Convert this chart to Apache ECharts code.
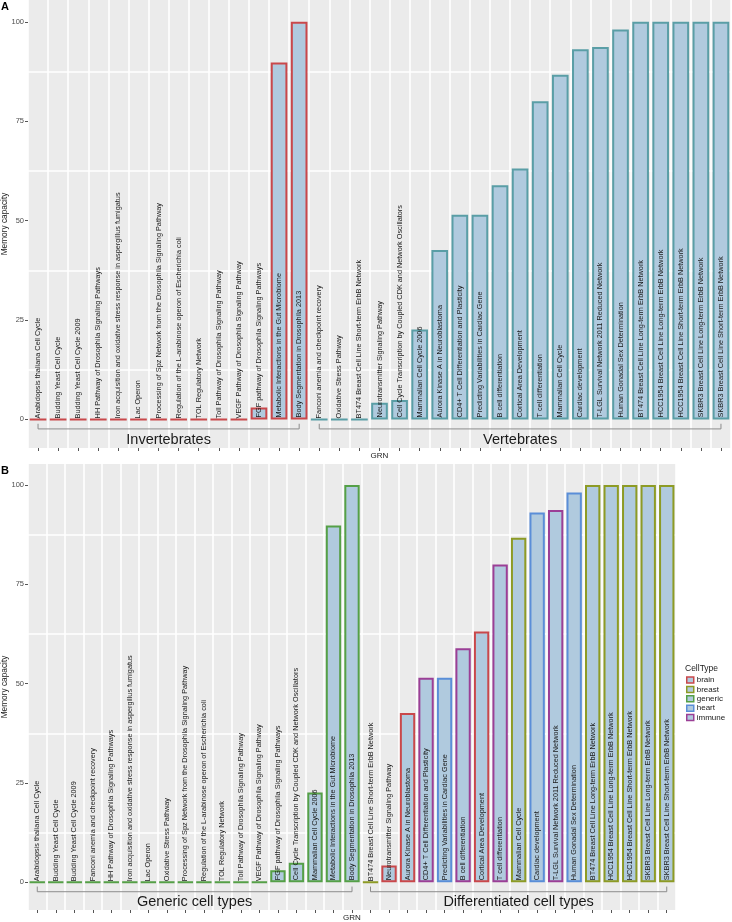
<!DOCTYPE html>
<html>
<head>
<meta charset="utf-8">
<script src="https://cdn.jsdelivr.net/npm/echarts@6/dist/echarts.min.js"></script>
<style>
  html, body { margin: 0; padding: 0; background: #fff; }
  #chart { width: 732px; height: 922px; }
</style>
</head>
<body>
<div id="chart"></div>
<script>
// GRN names in panel A order
var grnA = [
  'Arabidopsis thaliana Cell Cycle',
  'Budding Yeast Cell Cycle',
  'Budding Yeast Cell Cycle 2009',
  'HH Pathway of Drosophila Signaling Pathways',
  'Iron acquisition and oxidative stress response in aspergillus fumigatus',
  'Lac Operon',
  'Processing of Spz Network from the Drosophila Signaling Pathway',
  'Regulation of the L-arabinose operon of Escherichia coli',
  'TOL Regulatory Network',
  'Toll Pathway of Drosophila Signaling Pathway',
  'VEGF Pathway of Drosophila Signaling Pathway',
  'FGF pathway of Drosophila Signaling Pathways',
  'Metabolic Interactions in the Gut Microbiome',
  'Body Segmentation in Drosophila 2013',
  'Fanconi anemia and checkpoint recovery',
  'Oxidative Stress Pathway',
  'BT474 Breast Cell Line Short-term ErbB Network',
  'Neurotransmitter Signaling Pathway',
  'Cell Cycle Transcription by Coupled CDK and Network Oscillators',
  'Mammalian Cell Cycle 2006',
  'Aurora Kinase A in Neuroblastoma',
  'CD4+ T Cell Differentiation and Plasticity',
  'Predicting Variabilities in Cardiac Gene',
  'B cell differentiation',
  'Cortical Area Development',
  'T cell differentiation',
  'Mammalian Cell Cycle',
  'Cardiac development',
  'T-LGL Survival Network 2011 Reduced Network',
  'Human Gonadal Sex Determination',
  'BT474 Breast Cell Line Long-term ErbB Network',
  'HCC1954 Breast Cell Line Long-term ErbB Network',
  'HCC1954 Breast Cell Line Short-term ErbB Network',
  'SKBR3 Breast Cell Line Long-term ErbB Network',
  'SKBR3 Breast Cell Line Short-term ErbB Network'
];
var capacityA = [0, 0, 0, 0, 0, 0, 0, 0, 0, 0, 0, 3, 89.8, 100,
  0, 0, 0, 4.2, 4.9, 22.6, 42.6, 51.5, 51.5, 58.9, 63.1, 80, 86.7, 93.1, 93.7, 98.1,
  100, 100, 100, 100, 100];
var groupA = [
  'Invertebrates', 'Invertebrates', 'Invertebrates', 'Invertebrates', 'Invertebrates',
  'Invertebrates', 'Invertebrates', 'Invertebrates', 'Invertebrates', 'Invertebrates',
  'Invertebrates', 'Invertebrates', 'Invertebrates', 'Invertebrates',
  'Vertebrates', 'Vertebrates', 'Vertebrates', 'Vertebrates', 'Vertebrates', 'Vertebrates',
  'Vertebrates', 'Vertebrates', 'Vertebrates', 'Vertebrates', 'Vertebrates', 'Vertebrates',
  'Vertebrates', 'Vertebrates', 'Vertebrates', 'Vertebrates', 'Vertebrates', 'Vertebrates',
  'Vertebrates', 'Vertebrates', 'Vertebrates'
];

// panel B order
var grnB = [
  'Arabidopsis thaliana Cell Cycle',
  'Budding Yeast Cell Cycle',
  'Budding Yeast Cell Cycle 2009',
  'Fanconi anemia and checkpoint recovery',
  'HH Pathway of Drosophila Signaling Pathways',
  'Iron acquisition and oxidative stress response in aspergillus fumigatus',
  'Lac Operon',
  'Oxidative Stress Pathway',
  'Processing of Spz Network from the Drosophila Signaling Pathway',
  'Regulation of the L-arabinose operon of Escherichia coli',
  'TOL Regulatory Network',
  'Toll Pathway of Drosophila Signaling Pathway',
  'VEGF Pathway of Drosophila Signaling Pathway',
  'FGF pathway of Drosophila Signaling Pathways',
  'Cell Cycle Transcription by Coupled CDK and Network Oscillators',
  'Mammalian Cell Cycle 2006',
  'Metabolic Interactions in the Gut Microbiome',
  'Body Segmentation in Drosophila 2013',
  'BT474 Breast Cell Line Short-term ErbB Network',
  'Neurotransmitter Signaling Pathway',
  'Aurora Kinase A in Neuroblastoma',
  'CD4+ T Cell Differentiation and Plasticity',
  'Predicting Variabilities in Cardiac Gene',
  'B cell differentiation',
  'Cortical Area Development',
  'T cell differentiation',
  'Mammalian Cell Cycle',
  'Cardiac development',
  'T-LGL Survival Network 2011 Reduced Network',
  'Human Gonadal Sex Determination',
  'BT474 Breast Cell Line Long-term ErbB Network',
  'HCC1954 Breast Cell Line Long-term ErbB Network',
  'HCC1954 Breast Cell Line Short-term ErbB Network',
  'SKBR3 Breast Cell Line Long-term ErbB Network',
  'SKBR3 Breast Cell Line Short-term ErbB Network'
];
var cellTypeB = [
  'generic', 'generic', 'generic', 'generic', 'generic', 'generic', 'generic', 'generic', 'generic',
  'generic', 'generic', 'generic', 'generic', 'generic', 'generic', 'generic', 'generic', 'generic',
  'breast', 'brain', 'brain', 'immune', 'heart', 'immune', 'brain', 'immune', 'breast',
  'heart', 'immune', 'heart', 'breast', 'breast', 'breast', 'breast', 'breast'
];
var groupB = [
  'Generic cell types', 'Generic cell types', 'Generic cell types', 'Generic cell types',
  'Generic cell types', 'Generic cell types', 'Generic cell types', 'Generic cell types',
  'Generic cell types', 'Generic cell types', 'Generic cell types', 'Generic cell types',
  'Generic cell types', 'Generic cell types', 'Generic cell types', 'Generic cell types',
  'Generic cell types', 'Generic cell types',
  'Differentiated cell types', 'Differentiated cell types', 'Differentiated cell types',
  'Differentiated cell types', 'Differentiated cell types', 'Differentiated cell types',
  'Differentiated cell types', 'Differentiated cell types', 'Differentiated cell types',
  'Differentiated cell types', 'Differentiated cell types', 'Differentiated cell types',
  'Differentiated cell types', 'Differentiated cell types', 'Differentiated cell types',
  'Differentiated cell types', 'Differentiated cell types'
];
var cellTypes = ['brain', 'breast', 'generic', 'heart', 'immune'];
var yTicks = [0, 25, 50, 75, 100];
var yGridLines = [12.5, 37.5, 62.5, 87.5];

var FONT = 'Liberation Sans, Arial, sans-serif';
var FILL = '#b0cade';
var typeColors = { brain: '#c9484b', breast: '#8d9b25', generic: '#55a047', heart: '#5a8ed8', immune: '#9b3f96' };
var kingdomColors = { Invertebrates: '#c9484b', Vertebrates: '#5a9ea6' };

var capacityB = grnB.map(function(n) { return capacityA[grnA.indexOf(n)]; });

function brackets(groups) {
    var out = [];
    groups.forEach(function(g, i) {
        var last = out[out.length - 1];
        if (!last || last.name !== g) out.push({ name: g, value: [i, i] });
        else last.value[1] = i;
    });
    return out;
}

var barLabel = {
    show: true,
    formatter: '{b}',
    position: 'insideBottom',
    rotate: 90,
    align: 'left',
    verticalAlign: 'middle',
    distance: 2,
    fontSize: 7.3,
    fontFamily: FONT,
    color: '#1a1a1a'
};

var gridMarks = {
    silent: true,
    symbol: 'none',
    z: 1,
    label: { show: false },
    lineStyle: { color: '#ffffff', width: 1.6, type: 'solid' },
    data: yGridLines.map(function(v) { return { yAxis: v }; })
};

function bracketSeries(idx, groups) {
    var data = brackets(groups);
    return {
        type: 'custom',
        xAxisIndex: idx,
        yAxisIndex: idx,
        z: 3,
        silent: true,
        encode: { x: [0, 1] },
        data: data,
        renderItem: function(params, api) {
            var s = api.value(0), e = api.value(1);
            var a = api.coord([s, -1.1]);
            var b = api.coord([s, -2.4]);
            var c = api.coord([e, -2.4]);
            var d = api.coord([e, -1.1]);
            var t = api.coord([s, -5.1]);
            return {
                type: 'group',
                children: [{
                    type: 'polyline',
                    shape: { points: [a, b, c, d] },
                    style: { stroke: '#8c8c8c', lineWidth: 1, fill: null }
                }, {
                    type: 'text',
                    x: (a[0] + d[0]) / 2,
                    y: t[1],
                    style: {
                        text: data[params.dataIndex].name,
                        fontSize: 14.5,
                        fontFamily: FONT,
                        fill: '#1a1a1a',
                        align: 'center',
                        verticalAlign: 'middle'
                    }
                }]
            };
        }
    };
}

function xAxisFor(idx, cats) {
    return {
        type: 'category',
        gridIndex: idx,
        data: cats,
        name: 'GRN',
        nameLocation: 'middle',
        nameGap: 4,
        nameTextStyle: { fontSize: 8, fontFamily: FONT, color: '#1a1a1a', verticalAlign: 'top' },
        axisLine: { show: false, onZero: false },
        axisLabel: { show: false, interval: 0 },
        axisTick: { show: true, interval: 0, alignWithLabel: true, length: 3, lineStyle: { color: '#555' } },
        splitLine: { show: true, interval: 0, lineStyle: { color: '#ffffff', width: 1.6 } }
    };
}

function yAxisFor(idx, min, max) {
    return {
        type: 'value',
        gridIndex: idx,
        min: min,
        max: max,
        name: 'Memory capacity',
        nameLocation: 'middle',
        nameGap: 19,
        nameMoveOverlap: false,
        nameTextStyle: { fontSize: 8.3, fontFamily: FONT, color: '#1a1a1a' },
        axisLine: { show: false, onZero: false },
        axisTick: { show: true, length: 3, customValues: yTicks, lineStyle: { color: '#555' } },
        axisLabel: { customValues: yTicks, fontSize: 7.5, fontFamily: FONT, color: '#4d4d4d', margin: 4 },
        splitLine: { show: false }
    };
}

var series = [];
// panel A: one series per group so bars take the kingdom colour
['Invertebrates', 'Vertebrates'].forEach(function(k, i) {
    series.push({
        name: k,
        type: 'bar',
        xAxisIndex: 0,
        yAxisIndex: 0,
        stack: 'a',
        barCategoryGap: '17%',
        data: capacityA.map(function(v, j) { return groupA[j] === k ? v : '-'; }),
        itemStyle: { color: FILL, borderColor: kingdomColors[k], borderWidth: 2 },
        label: barLabel,
        markLine: i === 0 ? gridMarks : undefined
    });
});
cellTypes.forEach(function(t, i) {
    series.push({
        name: t,
        type: 'bar',
        xAxisIndex: 1,
        yAxisIndex: 1,
        stack: 'b',
        barCategoryGap: '17%',
        data: capacityB.map(function(v, j) { return cellTypeB[j] === t ? v : '-'; }),
        itemStyle: { color: FILL, borderColor: typeColors[t], borderWidth: 2 },
        label: barLabel,
        markLine: i === 0 ? gridMarks : undefined
    });
});
series.push(bracketSeries(0, groupA));
series.push(bracketSeries(1, groupB));

var chart = echarts.init(document.getElementById('chart'), null, { renderer: 'canvas' });
chart.setOption({
    animation: false,
    textStyle: { fontFamily: FONT },
    title: [
        { text: 'A', left: 1, top: 1, padding: 0, textStyle: { fontSize: 11, fontWeight: 'bold', color: '#000', fontFamily: FONT } },
        { text: 'B', left: 1, top: 465, padding: 0, textStyle: { fontSize: 11, fontWeight: 'bold', color: '#000', fontFamily: FONT } },
        { text: 'CellType', left: 685, top: 664, padding: 0, textStyle: { fontSize: 8.5, fontWeight: 'normal', color: '#1a1a1a', fontFamily: FONT } }
    ],
    legend: {
        data: cellTypes,
        orient: 'vertical',
        left: 686,
        top: 676,
        padding: 0,
        icon: 'rect',
        itemWidth: 7,
        itemHeight: 6,
        itemGap: 1.4,
        selectedMode: false,
        itemStyle: { borderWidth: 1.5 },
        textStyle: { fontSize: 8, fontFamily: FONT, color: '#1a1a1a', padding: [0, 0, 0, -2] }
    },
    grid: [
        { left: 28, top: 0, width: 703, height: 448, outerBoundsMode: 'none', containLabel: false, show: true, backgroundColor: '#ebebeb', borderWidth: 0 },
        { left: 28, top: 464, width: 648, height: 446, outerBoundsMode: 'none', containLabel: false, show: true, backgroundColor: '#ebebeb', borderWidth: 0 }
    ],
    xAxis: [xAxisFor(0, grnA), xAxisFor(1, grnB)],
    yAxis: [yAxisFor(0, -7.2, 105.5), yAxisFor(1, -7.0, 105.3)],
    series: series
});
</script>
</body>
</html>
